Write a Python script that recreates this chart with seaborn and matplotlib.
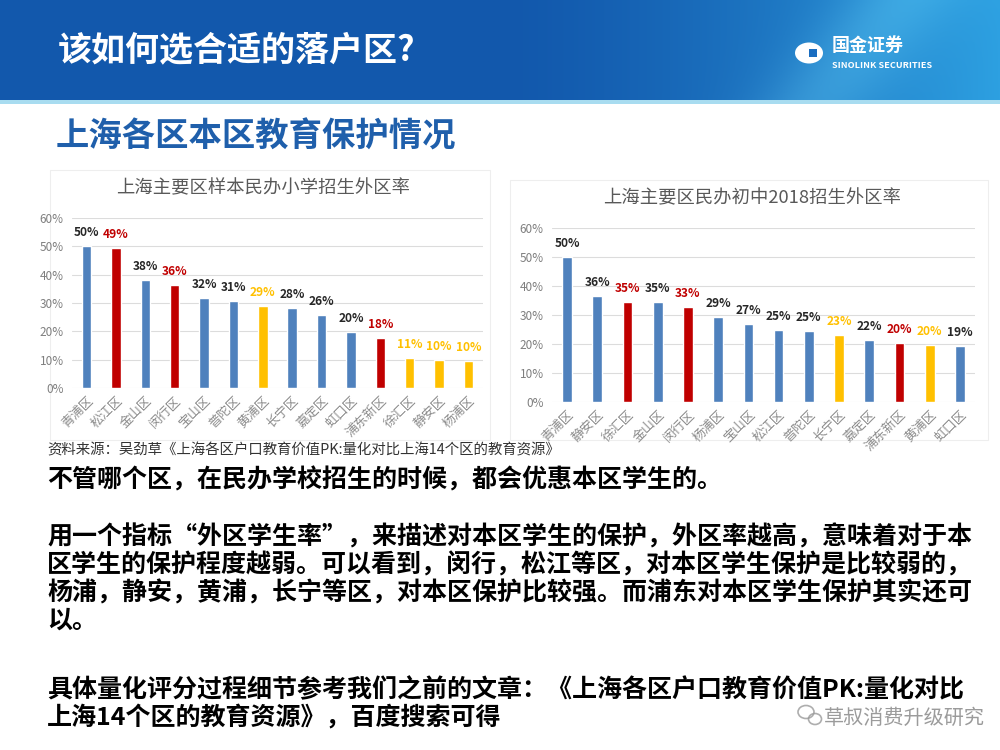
import numpy as np
import pandas as pd
import matplotlib
matplotlib.use("Agg")
import matplotlib.pyplot as plt
import matplotlib.patches as mpatches
import seaborn as sns

# chart 1: private primary schools, share of out-of-district students
districts_1 = ['青浦区', '松江区', '金山区', '闵行区', '宝山区', '普陀区', '黄浦区',
               '长宁区', '嘉定区', '虹口区', '浦东新区', '徐汇区', '静安区', '杨浦区']
rates_1 = [50.0, 49.3, 38.0, 36.2, 31.8, 30.8, 29.0, 28.3, 25.8, 19.8, 17.8, 10.7, 10.0, 9.7]
labels_1 = ['50%', '49%', '38%', '36%', '32%', '31%', '29%', '28%', '26%', '20%', '18%', '11%', '10%', '10%']
groups_1 = ['b', 'r', 'b', 'r', 'b', 'b', 'y', 'b', 'b', 'b', 'r', 'y', 'y', 'y']

# chart 2: private junior middle schools 2018
districts_2 = ['青浦区', '静安区', '徐汇区', '金山区', '闵行区', '杨浦区', '宝山区',
               '松江区', '普陀区', '长宁区', '嘉定区', '浦东新区', '黄浦区', '虹口区']
rates_2 = [50.0, 36.4, 34.5, 34.5, 32.8, 29.2, 27.0, 24.7, 24.5, 23.2, 21.4, 20.3, 19.7, 19.2]
labels_2 = ['50%', '36%', '35%', '35%', '33%', '29%', '27%', '25%', '25%', '23%', '22%', '20%', '20%', '19%']
groups_2 = ['b', 'b', 'r', 'b', 'r', 'b', 'b', 'b', 'b', 'y', 'b', 'r', 'y', 'b']

yticks = [0, 10, 20, 30, 40, 50, 60]

bar_colors = {'b': '#4f81bd', 'r': '#c00000', 'y': '#ffc000'}
text_colors = {'b': '#262626', 'r': '#c00000', 'y': '#ffc000'}

sns.set_theme(style="white")
plt.rcParams['font.family'] = ['Noto Sans CJK SC', 'DejaVu Sans']

fig = plt.figure(figsize=(10, 7.5), dpi=100)
W, H = 1000, 750


def fx(x):
    return x / W


def fy(y):
    return 1 - y / H


# header band with a blue gradient
hdr = fig.add_axes([0, fy(100), 1, 100 / H])
gx = np.linspace(0, 1, 400)
gy = np.linspace(0, 1, 40)
X, Y = np.meshgrid(gx, gy)
base = np.array([18, 88, 172]) / 255
light = np.array([45, 160, 225]) / 255
t = np.clip((X - 0.5) / 0.5, 0, 1) ** 1.4
img = base[None, None, :] * (1 - t[..., None]) + light[None, None, :] * t[..., None]
# soft diagonal highlight on the right
d = np.exp(-((X - 0.9 + 0.08 * Y) / 0.06) ** 2) * 0.3
img = np.clip(img + d[..., None] * np.array([0.3, 0.35, 0.2]), 0, 1)
hdr.imshow(img, aspect='auto', extent=[0, 1, 0, 1])
hdr.set_axis_off()
fig.add_artist(mpatches.Rectangle((0, fy(104)), 1, 4 / H, transform=fig.transFigure,
                                  color='#a8dcf0', lw=0))

fig.text(fx(58), fy(50), '该如何选合适的落户区?', color='white', fontsize=24.5,
         fontweight='bold', va='center', ha='left')

# logo
fig.add_artist(mpatches.Circle((fx(809), fy(53)), 14 / W, transform=fig.transFigure,
                               color='white', lw=0))
fig.add_artist(mpatches.Rectangle((fx(809), fy(57)), 8 / W, 8 / H, transform=fig.transFigure,
                                  color='#1a6dc0', lw=0))
fig.text(fx(832), fy(45), '国金证券', color='white', fontsize=13, fontweight='bold',
         va='center', ha='left')
fig.text(fx(832), fy(65), 'SINOLINK SECURITIES', color='white', fontsize=6.6,
         fontweight='bold', va='center', ha='left')

# subtitle
fig.text(fx(56), fy(137), '上海各区本区教育保护情况', color='#1f5fab', fontsize=24,
         fontweight='bold', va='center', ha='left')

# light frames of the two pasted charts (behind the axes)
fig.add_artist(mpatches.Rectangle((fx(50), fy(440)), 440 / W, 270 / H, transform=fig.transFigure,
                                  facecolor='white', edgecolor='#eeeeee', lw=0.8, zorder=-5))
fig.add_artist(mpatches.Rectangle((fx(510), fy(440)), 478 / W, 260 / H, transform=fig.transFigure,
                                  facecolor='white', edgecolor='#eeeeee', lw=0.8, zorder=-5))


def draw_chart(rect, names, values, labels, groups, title, title_xy):
    ax = fig.add_axes(rect)
    df = pd.DataFrame({'district': names, 'rate': values})
    pal = [bar_colors[g] for g in groups]
    sns.barplot(data=df, x='district', y='rate', hue='district', palette=pal,
                legend=False, width=0.32, saturation=1, ax=ax)
    ax.set_ylim(0, 60)
    ax.set_yticks(yticks)
    ax.set_yticklabels([f'{v}%' for v in yticks], fontsize=8.5, color='#7f7f7f')
    ax.yaxis.grid(True, color='#dcdcdc', lw=0.8)
    ax.set_axisbelow(True)
    sns.despine(ax=ax, left=True, bottom=True)
    ax.tick_params(axis='y', length=0, pad=6)
    ax.tick_params(axis='x', length=0, pad=4)
    ax.set_xlabel('')
    ax.set_ylabel('')
    ax.set_xticks(range(len(names)))
    ax.set_xticklabels(names, rotation=45, ha='right', rotation_mode='anchor',
                       fontsize=9.3, color='#8c8c8c')
    for i, (v, lab, g) in enumerate(zip(values, labels, groups)):
        ax.annotate(lab, (i, v), xytext=(0, 5), textcoords='offset points',
                    ha='center', va='bottom', fontsize=8.6, fontweight='bold',
                    color=text_colors[g])
    ax.set_facecolor('none')
    fig.text(fx(title_xy[0]), fy(title_xy[1]), title, fontsize=13.2, color='#595959',
             ha='center', va='center')
    return ax


draw_chart([fx(72), fy(388), 411 / W, 170 / H], districts_1, rates_1, labels_1, groups_1,
           '上海主要区样本民办小学招生外区率', (263, 188))
draw_chart([fx(552), fy(402), 423 / W, 174 / H], districts_2, rates_2, labels_2, groups_2,
           '上海主要区民办初中2018招生外区率', (752, 198))

# source line
fig.text(fx(47), fy(450), '资料来源：吴劲草《上海各区户口教育价值PK:量化对比上海14个区的教育资源》',
         fontsize=10.4, color='#333333', style='italic', ha='left', va='center')

# body text
body = [
    (480, '不管哪个区，在民办学校招生的时候，都会优惠本区学生的。'),
    (537, '用一个指标“外区学生率”，来描述对本区学生的保护，外区率越高，意味着对于本'),
    (565, '区学生的保护程度越弱。可以看到，闵行，松江等区，对本区学生保护是比较弱的，'),
    (593, '杨浦，静安，黄浦，长宁等区，对本区保护比较强。而浦东对本区学生保护其实还可'),
    (621, '以。'),
    (690, '具体量化评分过程细节参考我们之前的文章：《上海各区户口教育价值PK:量化对比'),
    (717, '上海14个区的教育资源》，百度搜索可得'),
]
for y, line in body:
    fig.text(fx(47), fy(y), line, fontsize=18, fontweight='bold', color='black',
             ha='left', va='center')

# watermark
fig.add_artist(mpatches.Ellipse((fx(806), fy(712)), 16 / W, 13 / H, transform=fig.transFigure,
                                facecolor='none', edgecolor='#9a9a9a', lw=1.2, alpha=0.8))
fig.add_artist(mpatches.Ellipse((fx(815), fy(719)), 13 / W, 11 / H, transform=fig.transFigure,
                                facecolor='none', edgecolor='#9a9a9a', lw=1.2, alpha=0.8))
fig.text(fx(824), fy(718), '草叔消费升级研究', fontsize=14.5, color='#8a8a8a', alpha=0.85,
         ha='left', va='center')

fig.savefig('out.png', dpi=100)
